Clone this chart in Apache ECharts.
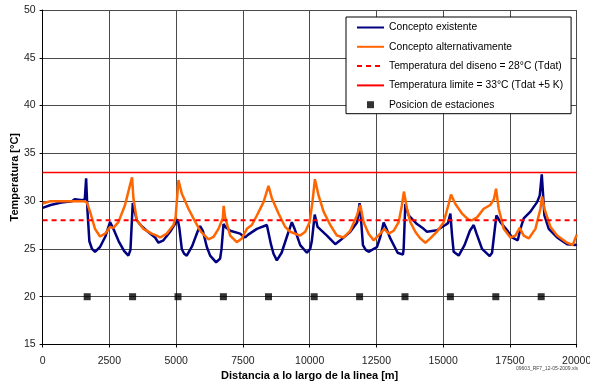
<!DOCTYPE html>
<html>
<head>
<meta charset="utf-8">
<script src="https://cdn.jsdelivr.net/npm/echarts@6/dist/echarts.min.js"></script>
<style>html,body{margin:0;padding:0;background:#fff}#c{width:590px;height:385px}</style>
</head>
<body>
<div id="c"></div>
<script>
var xTicks = [0, 2500, 5000, 7500, 10000, 12500, 15000, 17500, 20000];
var yTicks = [15, 20, 25, 30, 35, 40, 45, 50];

var existente = [
[0,29.3],[300,29.6],[700,29.85],[1100,30.0],[1200,30.2],[1500,30.1],[1580,30.2],[1630,32.4],[1680,29.0],[1751,25.8],[1850,25.0],[1963,24.7],[2150,25.2],[2350,26.3],[2525,27.8],[2650,27.1],[2850,25.8],[3050,24.8],[3212,24.3],[3290,24.9],[3376,29.8],[3526,28.0],[3700,27.4],[3900,26.9],[4213,26.2],[4338,25.65],[4525,25.9],[4775,26.8],[5000,27.8],[5060,28.1],[5120,27.2],[5212,25.0],[5300,24.5],[5399,24.3],[5600,25.3],[5800,26.8],[5899,27.4],[6000,26.9],[6150,25.2],[6274,24.3],[6498,23.6],[6648,24.0],[6700,25.0],[6774,27.6],[6850,27.3],[7024,26.9],[7398,26.6],[7586,26.2],[7700,26.5],[8023,27.1],[8398,27.5],[8460,27.3],[8550,25.5],[8647,24.5],[8772,23.8],[8950,24.6],[9150,26.3],[9334,27.8],[9450,27.0],[9647,25.4],[9896,24.6],[10020,25.0],[10080,25.8],[10190,28.6],[10297,27.3],[10647,26.4],[10959,25.5],[11146,25.9],[11521,26.8],[11780,27.8],[11870,29.8],[11940,27.5],[11995,25.4],[12100,24.9],[12208,24.7],[12520,25.2],[12650,26.3],[12770,27.75],[12850,27.3],[13020,26.1],[13294,24.6],[13494,24.4],[13520,25.0],[13582,29.7],[13707,28.5],[14020,27.6],[14269,27.1],[14394,26.8],[14769,26.95],[15081,27.5],[15180,27.7],[15269,28.7],[15330,26.5],[15393,24.7],[15581,24.3],[15800,25.4],[16000,26.9],[16143,27.5],[16250,26.6],[16455,25.0],[16742,24.25],[16830,24.6],[16993,28.5],[17143,27.8],[17393,26.95],[17580,26.2],[17792,25.9],[17892,27.1],[18017,28.2],[18267,28.9],[18517,29.9],[18617,30.6],[18692,32.8],[18791,28.5],[18954,27.1],[19266,26.2],[19640,25.5],[19950,25.4],[20000,25.5]
];

var alternativo = [
[0,29.75],[300,30.0],[1000,30.0],[1526,30.0],[1651,29.9],[1776,28.9],[1963,27.1],[2150,26.3],[2338,26.6],[2525,27.3],[2650,27.2],[2838,27.8],[3087,29.6],[3275,31.7],[3350,32.5],[3401,30.3],[3526,28.0],[3776,27.1],[4088,26.6],[4275,26.4],[4400,26.2],[4650,26.6],[4900,27.5],[4980,28.3],[5087,32.2],[5212,30.8],[5462,29.2],[5649,28.2],[5899,26.9],[6211,26.0],[6398,26.25],[6586,27.1],[6748,28.2],[6780,29.5],[6836,28.3],[7024,26.4],[7273,25.7],[7461,26.1],[7648,27.1],[7835,27.5],[8023,28.5],[8273,29.9],[8460,31.6],[8585,30.3],[8835,28.7],[9084,27.3],[9272,26.8],[9647,26.4],[9834,26.8],[9997,27.8],[10100,29.8],[10197,32.3],[10334,30.6],[10522,28.9],[10771,27.5],[11021,26.4],[11271,26.2],[11521,26.9],[11771,28.5],[11895,29.6],[12021,27.8],[12208,26.6],[12395,25.9],[12645,26.6],[12795,27.1],[12957,26.6],[13145,26.9],[13332,27.8],[13450,29.5],[13530,31.0],[13645,29.2],[13770,27.8],[13957,26.8],[14144,26.1],[14332,25.65],[14519,26.1],[14769,26.8],[15019,27.8],[15206,29.7],[15293,30.7],[15456,29.7],[15706,28.7],[15955,28.05],[16080,28.0],[16268,28.3],[16518,29.2],[16767,29.6],[16900,30.2],[16980,31.3],[17080,29.2],[17268,27.1],[17517,26.2],[17704,26.4],[17867,27.2],[18017,26.4],[18204,26.1],[18454,27.1],[18642,29.2],[18704,30.5],[18792,29.2],[19017,27.3],[19266,26.4],[19640,25.65],[19850,25.4],[20000,26.5]
];

var diseno = [[0,28],[20000,28]];
var limite = [[0,33],[20000,33]];
var estacionesX = [1670,3370,5070,6770,8460,10170,11870,13570,15270,16970,18670];
var estacionesY = 20;

var names = ['Concepto existente','Concepto alternativamente','Temperatura del diseno = 28°C (Tdat)','Temperatura limite = 33°C (Tdat +5 K)','Posicion de estaciones'];

var FONT = '"Liberation Sans", Arial, sans-serif';
var hideSym = {opacity: 0};
var chart = echarts.init(document.getElementById('c'), null, {renderer:'canvas'});
chart.setOption({
  animation: false,
  backgroundColor: '#fff',
  grid: {left: 42.6, right: 13.3, top: 10, bottom: 40.5, containLabel: false, outerBoundsMode: 'none'},
  legend: {
    orient: 'vertical', left: 346, top: 17,
    padding: [5.5, 8, 4, 10],
    itemWidth: 27, itemHeight: 7, itemGap: 9.3,
    backgroundColor: '#fff', borderColor: '#000', borderWidth: 1,
    textStyle: {fontFamily: FONT, fontSize: 10.3, color: '#000'},
    data: [
      {name: names[0], itemStyle: hideSym}, {name: names[1], itemStyle: hideSym},
      {name: names[2], itemStyle: hideSym}, {name: names[3], itemStyle: hideSym},
      {name: names[4], icon: 'path://M0 0H10V10H0Z'}
    ]
  },
  xAxis: {
    type: 'value', min: 0, max: 20000, interval: 2500,
    name: 'Distancia a lo largo de la linea [m]', nameLocation: 'middle', nameGap: 26,
    nameMoveOverlap: false,
    nameTextStyle: {fontFamily: FONT, fontSize: 11, fontWeight: 'bold', color: '#000'},
    axisLine: {show: true, lineStyle: {color: '#000', width: 1}},
    axisTick: {show: true, length: 3, lineStyle: {color: '#000'}},
    axisLabel: {fontFamily: FONT, fontSize: 10.5, color: '#222', margin: 11,
      formatter: function(v){ return xTicks.indexOf(v) >= 0 ? String(v) : ''; }},
    splitLine: {show: true, lineStyle: {color: '#4a4a4a', width: 1}}
  },
  yAxis: {
    type: 'value', min: 15, max: 50, interval: 5,
    name: 'Temperatura [°C]', nameLocation: 'middle', nameGap: 22,
    nameMoveOverlap: false,
    nameTextStyle: {fontFamily: FONT, fontSize: 11, fontWeight: 'bold', color: '#000'},
    axisLine: {show: true, lineStyle: {color: '#000', width: 1}},
    axisTick: {show: true, length: 3, lineStyle: {color: '#000'}},
    axisLabel: {fontFamily: FONT, fontSize: 10.5, color: '#222', margin: 7,
      formatter: function(v){ return yTicks.indexOf(v) >= 0 ? String(v) : ''; }},
    splitLine: {show: true, lineStyle: {color: '#4a4a4a', width: 1}}
  },
  series: [
    {name: names[0], type: 'line', data: existente, symbol: 'none', z: 3,
      lineStyle: {color: '#000080', width: 2.5}, itemStyle: {color: '#000080'}},
    {name: names[1], type: 'line', data: alternativo, symbol: 'none', z: 4,
      lineStyle: {color: '#FF6600', width: 2.5}, itemStyle: {color: '#FF6600'}},
    {name: names[2], type: 'line', data: diseno, symbol: 'none', z: 5,
      lineStyle: {color: '#FF0000', width: 2, type: [5, 4]}, itemStyle: {color: '#FF0000'}},
    {name: names[3], type: 'line', data: limite, symbol: 'none', z: 5,
      lineStyle: {color: '#FF0000', width: 1.5}, itemStyle: {color: '#FF0000'}},
    {name: names[4], type: 'scatter', symbol: 'rect', symbolSize: 7, z: 6,
      data: estacionesX.map(function(x){ return [x, estacionesY]; }),
      itemStyle: {color: '#000'}}
  ],
  graphic: [{
    type: 'text', right: 12, top: 366,
    style: {text: '09603_RF7_12-05-2009.xls', fontFamily: FONT, fontSize: 5, fill: '#444'}
  }]
});
</script>
</body>
</html>
